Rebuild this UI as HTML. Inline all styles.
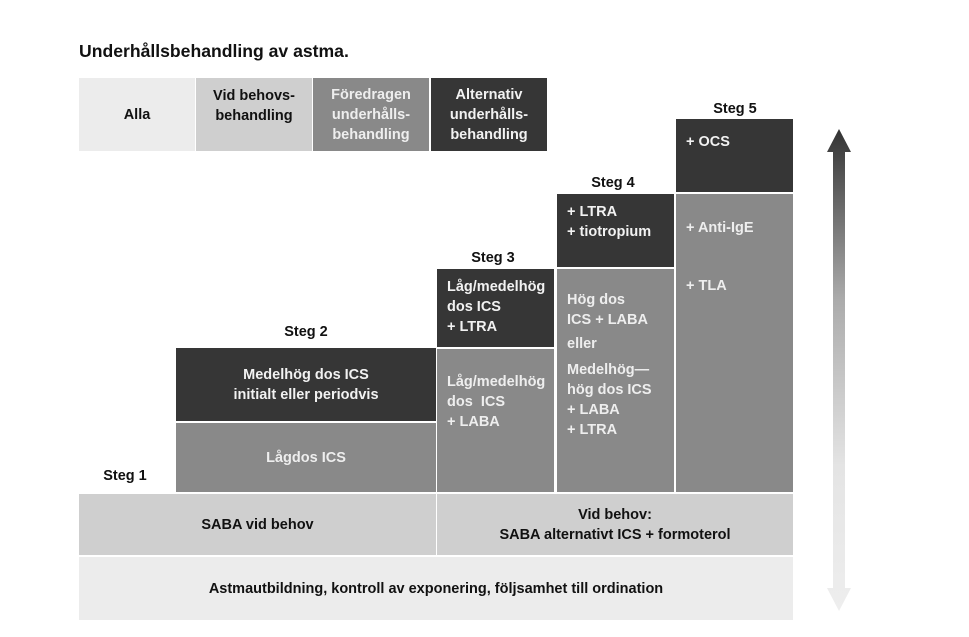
<!DOCTYPE html>
<html><head><meta charset="utf-8"><style>
body{margin:0;width:969px;height:637px;background:#fff;position:relative;overflow:hidden;font-family:"Liberation Sans",sans-serif;font-weight:bold;}
.b{position:absolute;box-sizing:border-box;font-size:14.5px;line-height:20px;white-space:nowrap;}
.c{display:flex;align-items:center;justify-content:center;text-align:center;}
.l1{background:#ececec;color:#111;}
.l2{background:#cfcfcf;color:#111;}
.l3{background:#898989;color:#eee;}
.l4{background:#363636;color:#f2f2f2;}
.lab{position:absolute;font-size:14.5px;color:#111;text-align:center;}
.p{padding:8px 0 0 10px;}
</style></head><body>
<div class="lab" style="left:79px;top:41px;font-size:17.6px;text-align:left">Underhållsbehandling av astma.</div>

<div class="b c l1" style="left:79px;top:78px;width:116px;height:73px">Alla</div>
<div class="b c l2" style="left:196px;top:78px;width:116px;height:73px;align-items:flex-start;padding-top:8px">Vid behovs-<br>behandling</div>
<div class="b c l3" style="left:313px;top:78px;width:116px;height:73px">Föredragen<br>underhålls-<br>behandling</div>
<div class="b c l4" style="left:431px;top:78px;width:116px;height:73px">Alternativ<br>underhålls-<br>behandling</div>

<div class="lab" style="left:95px;top:468px;width:60px">Steg 1</div>
<div class="lab" style="left:276px;top:324px;width:60px">Steg 2</div>
<div class="lab" style="left:463px;top:250px;width:60px">Steg 3</div>
<div class="lab" style="left:583px;top:175px;width:60px">Steg 4</div>
<div class="lab" style="left:705px;top:101px;width:60px">Steg 5</div>

<div class="b c l4" style="left:176px;top:348px;width:260px;height:73px">Medelhög dos ICS<br>initialt eller periodvis</div>
<div class="b c l3" style="left:176px;top:423px;width:260px;height:69px">Lågdos ICS</div>

<div class="b l4 p" style="left:437px;top:269px;width:117px;height:78px">Låg/medelhög<br>dos ICS<br>+ LTRA</div>
<div class="b l3 p" style="left:437px;top:349px;width:117px;height:143px;padding-top:23px">Låg/medelhög<br>dos&nbsp; ICS<br>+ LABA</div>

<div class="b l4 p" style="left:557px;top:194px;width:117px;height:73px">+ LTRA<br>+ tiotropium</div>
<div class="b l3 p" style="left:557px;top:269px;width:117px;height:223px;padding-top:21px">Hög dos<br>ICS + LABA<br><div style="margin-top:4px">eller</div><div style="margin-top:6px">Medelhög—<br>hög dos ICS<br>+ LABA<br>+ LTRA</div></div>

<div class="b l4 p" style="left:676px;top:119px;width:117px;height:73px;padding-top:13px">+ OCS</div>
<div class="b l3 p" style="left:676px;top:194px;width:117px;height:298px;padding-top:24px">+ Anti-IgE<div style="margin-top:38px">+ TLA</div></div>

<div class="b c l2" style="left:79px;top:494px;width:357px;height:61px;color:#111">SABA vid behov</div>
<div class="b c l2" style="left:437px;top:494px;width:356px;height:61px;color:#111">Vid behov:<br>SABA alternativt ICS + formoterol</div>
<div class="b c l1" style="left:79px;top:557px;width:714px;height:63px">Astmautbildning, kontroll av exponering, följsamhet till ordination</div>

<svg style="position:absolute;left:820px;top:120px" width="40" height="500">
<defs><linearGradient id="g" x1="0" y1="0" x2="0" y2="1">
<stop offset="0" stop-color="#333"/><stop offset="0.35" stop-color="#aaa"/><stop offset="0.7" stop-color="#e4e4e4"/><stop offset="1" stop-color="#eee"/></linearGradient></defs>
<polygon points="19,9 31,32 25,32 25,468 31,468 19,491 7,468 13,468 13,32 7,32" fill="url(#g)"/>
</svg>
</body></html>
